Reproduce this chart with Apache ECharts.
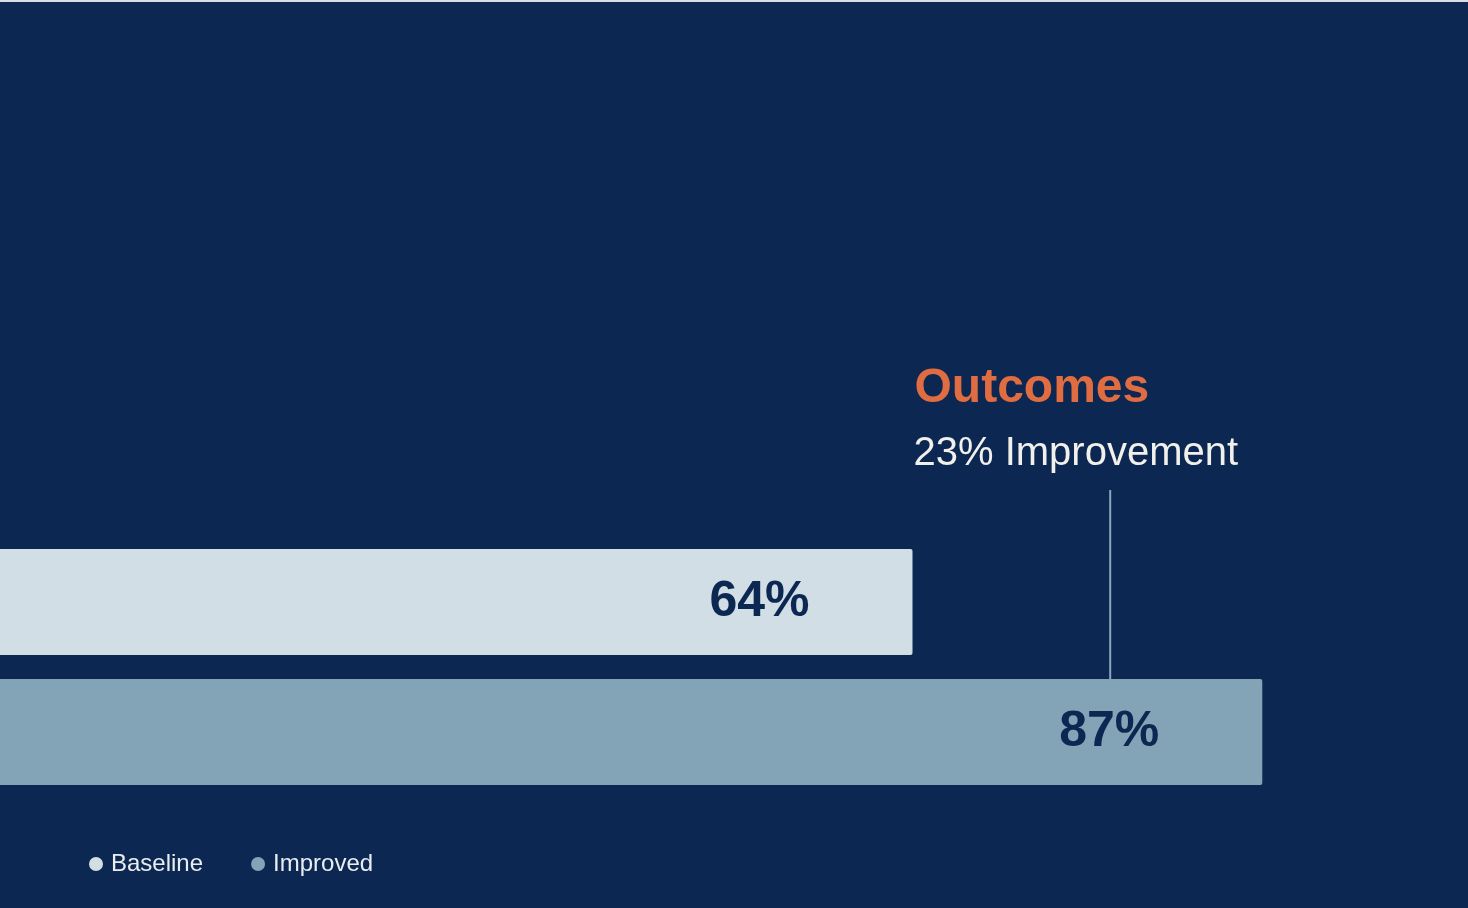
<!DOCTYPE html>
<html>
<head>
<meta charset="utf-8">
<script src="https://cdn.jsdelivr.net/npm/echarts@6/dist/echarts.min.js"></script>
<style>
  html, body { margin: 0; padding: 0; background: #0c2751; }
  #chart { width: 1468px; height: 908px; }
</style>
</head>
<body>
<div id="chart"></div>
<script>
// data
const categories = ['Baseline', 'Improved'];
const baselineValues = [64, '-'];
const improvedValues = ['-', 87];
const headline = 'Outcomes';
const subline = '23% Improvement';
const calloutAt = 77; // where the connector drops onto the Improved bar

const navy = '#0c2751';
const font = '"Liberation Sans", Arial, sans-serif';

const chart = echarts.init(document.getElementById('chart'));

const labelStyle = {
  show: true,
  position: 'insideRight',
  distance: 103,
  formatter: '{c}%',
  color: navy,
  fontSize: 50,
  fontWeight: 'bold',
  fontFamily: font
};

chart.setOption({
  backgroundColor: navy,
  animation: false,
  // the left part of the axis runs off the page
  grid: { left: 0, right: 8, top: 537, height: 260 },
  xAxis: { type: 'value', min: 4, max: 100, show: false },
  yAxis: { type: 'category', data: categories, inverse: true, show: false },
  legend: {
    left: 84,
    top: 847,
    icon: 'circle',
    itemWidth: 14,
    itemHeight: 14,
    itemGap: 48,
    textStyle: { color: '#e9edf0', fontSize: 24, fontFamily: font, padding: [0, 0, 0, 3] },
    data: categories
  },
  series: [
    {
      name: 'Baseline', type: 'bar', data: baselineValues,
      barWidth: 106, barGap: '-100%',
      itemStyle: { color: '#d2dee6', borderRadius: [0, 2, 2, 0] },
      label: labelStyle
    },
    {
      name: 'Improved', type: 'bar', data: improvedValues,
      barWidth: 106, barGap: '-100%',
      itemStyle: { color: '#82a4b6', borderRadius: [0, 2, 2, 0] },
      label: labelStyle
    }
  ]
});

// annotation anchored on the end of the baseline bar
const baseEnd = chart.convertToPixel({ gridIndex: 0 }, [baselineValues[0], 0]);
const impPos = chart.convertToPixel({ gridIndex: 0 }, [calloutAt, 1]);
const barTop = impPos[1] - 53;

chart.setOption({
  graphic: [
    { type: 'rect', left: 0, top: 0, shape: { width: 1468, height: 2 }, style: { fill: '#d9dde3' } },
    {
      type: 'text', x: baseEnd[0] + 2, y: 365,
      style: { text: headline, fill: '#e06c42', font: 'bold 48px ' + font }
    },
    {
      type: 'text', x: baseEnd[0] + 1, y: 434,
      style: { text: subline, fill: '#f2f0eb', font: '40px ' + font }
    },
    {
      type: 'line',
      shape: { x1: impPos[0], y1: 490, x2: impPos[0], y2: barTop },
      style: { stroke: '#8aa7bf', lineWidth: 2 }
    }
  ]
});
</script>
</body>
</html>
